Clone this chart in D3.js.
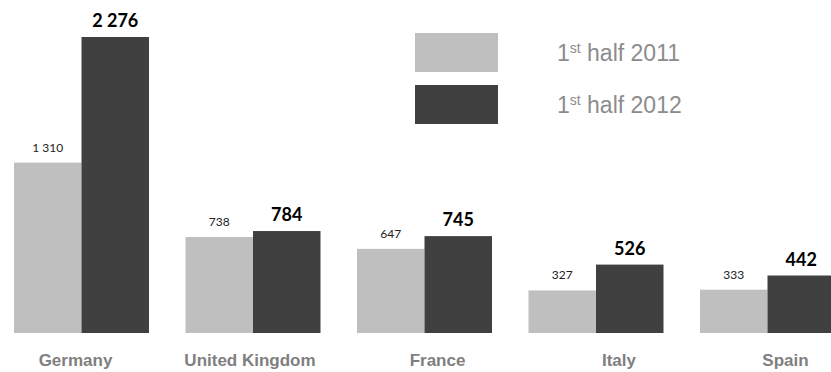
<!DOCTYPE html>
<html>
<head>
<meta charset="utf-8">
<script src="https://cdn.jsdelivr.net/npm/d3@7"></script>
<style>
  html, body { margin: 0; padding: 0; background: #fff; }
  svg { display: block; }
</style>
</head>
<body>
<script>
// data
const countries = ["Germany", "United Kingdom", "France", "Italy", "Spain"];
const seriesKeys = ["h2011", "h2012"];
const seriesNames = ["half 2011", "half 2012"];
const values2011 = [1310, 738, 647, 327, 333];
const values2012 = [2276, 784, 745, 526, 442];
const valueLabels2011 = ["1 310", "738", "647", "327", "333"];
const valueLabels2012 = ["2 276", "784", "745", "526", "442"];

const width = 831, height = 372;
const colors = { h2011: "#bfbfbf", h2012: "#404040" };
// category labels are not quite centred under their groups in the original
const labelDx = [-6, -3, 13, 23, 18];

const rows = countries.map((c, i) => ({
  country: c,
  h2011: values2011[i],
  h2012: values2012[i],
  lab2011: valueLabels2011[i],
  lab2012: valueLabels2012[i]
}));

const svg = d3.select("body").append("svg")
  .attr("width", width)
  .attr("height", height);

// scales
const step = 171.5, groupW = 135;
const x0 = d3.scaleBand()
  .domain(countries)
  .range([14, 14 + step * (countries.length - 1) + groupW])
  .paddingInner(1 - groupW / step)
  .paddingOuter(0)
  .align(0);

const x1 = d3.scaleBand()
  .domain(seriesKeys)
  .range([0, x0.bandwidth()]);

const y = d3.scaleLinear()
  .domain([0, d3.max(values2012)])
  .range([333, 37]);

// bars
const groups = svg.selectAll("g.group")
  .data(rows)
  .join("g")
  .attr("class", "group")
  .attr("transform", d => `translate(${x0(d.country)},0)`);

groups.selectAll("rect")
  .data(d => seriesKeys.map(k => ({ key: k, value: d[k] })))
  .join("rect")
  .attr("x", d => x1(d.key))
  .attr("y", d => y(d.value))
  .attr("width", x1.bandwidth())
  .attr("height", d => y(0) - y(d.value))
  .attr("fill", d => colors[d.key]);

// value labels
groups.append("text")
  .attr("x", x1("h2011") + x1.bandwidth() / 2)
  .attr("y", d => y(d.h2011) - 11)
  .attr("text-anchor", "middle")
  .style("font-family", "Lato, 'DejaVu Sans', sans-serif")
  .style("font-size", "12px")
  .attr("fill", "#222")
  .text(d => d.lab2011);

groups.append("text")
  .attr("x", x1("h2012") + x1.bandwidth() / 2)
  .attr("y", d => y(d.h2012) - 10)
  .attr("text-anchor", "middle")
  .style("font-family", "Lato, 'DejaVu Sans', sans-serif")
  .style("font-size", "18px")
  .style("font-weight", "bold")
  .attr("fill", "#000")
  .text(d => d.lab2012);

// category labels
svg.append("g")
  .selectAll("text")
  .data(countries)
  .join("text")
  .attr("x", (d, i) => x0(d) + x0.bandwidth() / 2 + labelDx[i])
  .attr("y", 366)
  .attr("text-anchor", "middle")
  .style("font-family", "'Liberation Sans', Arial, sans-serif")
  .style("font-size", "17px")
  .style("font-weight", "bold")
  .attr("fill", "#7f7f7f")
  .text(d => d);

// legend
const legend = svg.append("g")
  .selectAll("g")
  .data(seriesKeys)
  .join("g")
  .attr("transform", (d, i) => `translate(415,${33 + i * 52})`);

legend.append("rect")
  .attr("width", 83)
  .attr("height", 39)
  .attr("fill", d => colors[d]);

const lt = legend.append("text")
  .attr("x", 142)
  .attr("y", 28)
  .style("font-family", "'Liberation Sans', Arial, sans-serif")
  .style("font-size", "23px")
  .attr("fill", "#8c8c8c");

lt.append("tspan").text("1");
lt.append("tspan")
  .attr("dy", -8)
  .style("font-size", "14px")
  .text("st");
lt.append("tspan")
  .attr("dy", 8)
  .text((d, i) => " " + seriesNames[i]);
</script>
</body>
</html>
